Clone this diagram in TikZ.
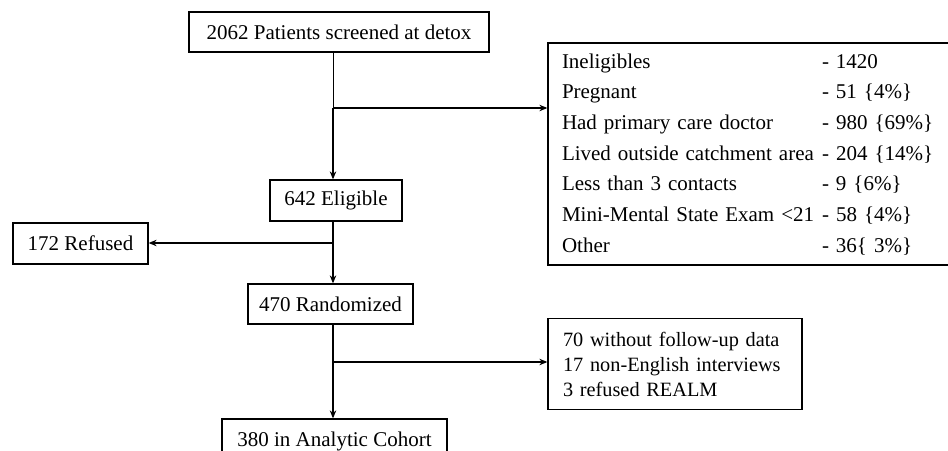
\documentclass[tikz,border=0pt]{standalone}
\usepackage{fontspec}
\setmainfont{Liberation Serif}
\usetikzlibrary{arrows.meta}
\begin{document}
\begin{tikzpicture}[x=1pt,y=-1pt,
  box/.style={draw, line width=1.3pt, inner sep=0pt, font=\fontsize{21}{25}\selectfont},
  conn/.style={line width=1.1pt},
  thinconn/.style={line width=0.7pt},
  arr/.style={conn, -{Stealth[length=8pt,width=6.5pt]}}]
\clip (0,0) rectangle (948,450);
\fill[white] (0,0) rectangle (948,450);
\node[box, minimum width=300pt, minimum height=40pt] (top) at (339,32) {2062 Patients screened at detox};
\node[box, minimum width=132pt, minimum height=41pt] (elig) at (336,200.5) {642 Eligible};
\node[box, minimum width=135pt, minimum height=41pt] (ref) at (80.5,243.5) {172 Refused};
\node[box, minimum width=165pt, minimum height=40pt] (rand) at (330.5,304) {470 Randomized};
\node[box, minimum width=225pt, minimum height=44pt] (coh) at (334.5,441) {380 in Analytic Cohort};
\node[box, text width=376pt, inner xsep=14pt, minimum height=222pt, align=left] (inel) at (750,154)
  {\noindent\renewcommand{\arraystretch}{1.228}\begin{tabular}{@{}p{260pt}@{}l@{}}
   Ineligibles & - 1420\\
   Pregnant & - 51 \{4\%\}\\
   Had primary care doctor & - 980 \{69\%\}\\
   Lived outside catchment area & - 204 \{14\%\}\\
   Less than 3 contacts & - 9 \{6\%\}\\
   Mini-Mental State Exam <21 & - 58 \{4\%\}\\
   Other & - 36\{ 3\%\}
  \end{tabular}};
\node[box, text width=224pt, inner xsep=15pt, minimum height=91pt, align=left,
  font=\fontsize{20.3}{25}\selectfont] (excl) at (675,364)
  {70 without follow-up data\\17 non-English interviews\\3 refused REALM};
\coordinate (b1) at (333,108);
\coordinate (b2) at (333,243);
\coordinate (b3) at (333,362);
\draw[thinconn] (top.south -| b1) -- (b1);
\draw[arr] (b1) -- (elig.north -| b1);
\draw[arr] (b1) -- (inel.west |- b1);
\draw[conn] (elig.south -| b2) -- (b2);
\draw[arr] (b2) -- (ref.east |- b2);
\draw[arr] (b2) -- (rand.north -| b2);
\draw[conn] (rand.south -| b3) -- (b3);
\draw[arr] (b3) -- (coh.north -| b3);
\draw[arr] (b3) -- (excl.west |- b3);
\end{tikzpicture}
\end{document}
